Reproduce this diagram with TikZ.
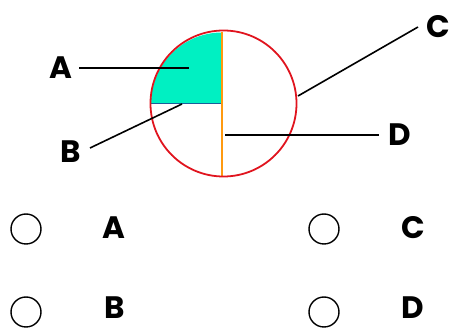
\documentclass[tikz,border=0pt]{standalone}
\usepackage{fontspec}
\setmainfont{Poppins}
\usepackage{tikz}
\usetikzlibrary{arrows.meta,positioning,calc}
\definecolor{qred}{HTML}{E0141E}
\definecolor{qteal}{HTML}{00F0C2}
\definecolor{qorange}{HTML}{FF9A10}
\definecolor{qblue}{HTML}{1A5E9A}
\tikzset{
  lbl/.style     = {font=\fontsize{31}{31}\selectfont\bfseries, inner sep=0pt,
                    text height=22pt, text depth=0pt},
  pointer/.style = {draw=black, line width=1.6pt},
  optc/.style    = {circle, draw=black, line width=1.4pt, minimum size=30pt,
                    inner sep=0pt},
}
\begin{document}
\begin{tikzpicture}[x=1pt,y=-1pt]
  \useasboundingbox (0,0) rectangle (451,331);
  % the disc
  \coordinate (ctr) at (222,103.5);
  \fill[qteal] (ctr) -- (151,103.5) arc[start angle=180, end angle=270, radius=71] -- cycle;
  \draw[qblue, line width=1.2pt] (151,103.5) -- (ctr);
  \draw[qorange, line width=1.4pt] (222,32) -- (222,176);
  \draw[qred, line width=1.8pt] (223.5,103.5) circle[radius=73];
  % labels and pointers
  \node[lbl] (labA) at (61,68) {A};
  \node[lbl] (labB) at (71,152) {B};
  \node[lbl] (labC) at (438,27) {C};
  \node[lbl] (labD) at (400,135) {D};
  \coordinate (tipA) at (189,68);
  \coordinate (tipB) at (182,104);
  \coordinate (tipC) at (298,96);
  \coordinate (tipD) at (225,135);
  \draw[pointer] (79,68) -- (tipA);
  \draw[pointer] (90,148) -- (tipB);
  \draw[pointer] (418,27) -- (tipC);
  \draw[pointer] (tipD) -- (379,135);
  % answer choices
  \node[optc] (opt1) at (26,229) {};
  \node[optc] (opt2) at (26,312) {};
  \node[optc] (opt3) at (324,229) {};
  \node[optc] (opt4) at (324,312) {};
  \node[lbl] (ansA) at (114,228) {A};
  \node[lbl] (ansB) at (115,308) {B};
  \node[lbl] (ansC) at (413,228) {C};
  \node[lbl] (ansD) at (413,308) {D};
\end{tikzpicture}
\end{document}
